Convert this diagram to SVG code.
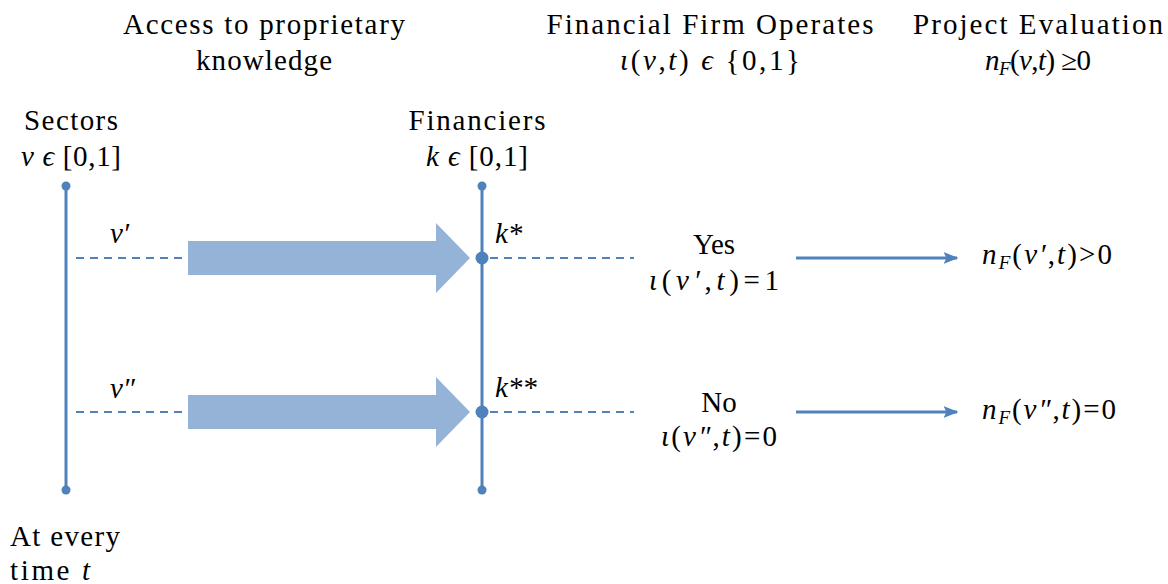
<svg xmlns="http://www.w3.org/2000/svg" width="1168" height="584" viewBox="0 0 1168 584" font-family="'Liberation Serif', 'DejaVu Serif', 'Times New Roman', serif">
<defs>
<style>
text{font-family:'Liberation Serif','DejaVu Serif','Times New Roman',serif;font-size:29px;fill:#000}
.m{font-style:italic}
.c{text-anchor:middle}
.ax{stroke:#4F81BD;stroke-width:3;fill:none}
.dash{stroke:#4F81BD;stroke-width:2;stroke-dasharray:8,6;fill:none}
.dot{fill:#4F81BD}
.big{fill:#95B3D7}
.arr{stroke:#4F81BD;stroke-width:3;fill:none}
.sub{font-size:19px;font-style:italic}
</style>
<marker id="ah" viewBox="0 0 10 10" refX="9" refY="5" markerWidth="5" markerHeight="5" orient="auto" markerUnits="strokeWidth">
<path d="M0,1 L10,5 L0,9 L2,5 z" fill="#4F81BD"/>
</marker>
</defs>

<g id="headers">
<text class="c" x="264" y="34" textLength="282">Access to proprietary</text>
<text class="c" x="264" y="70" textLength="136">knowledge</text>
<text class="c" x="710" y="34" textLength="327">Financial Firm Operates</text>
<text class="c" x="710" y="70" textLength="180"><tspan class="m">ι</tspan>(<tspan class="m">v</tspan>,<tspan class="m">t</tspan>) <tspan class="m">ϵ</tspan> {0,1}</text>
<text class="c" x="1038" y="34" textLength="250">Project Evaluation</text>
<text class="c" x="1038" y="70" textLength="106"><tspan class="m">n</tspan><tspan class="sub" dy="5">F</tspan><tspan dy="-5">(</tspan><tspan class="m">v</tspan>,<tspan class="m">t</tspan>) ≥0</text>
</g>

<g id="sectors">
<text class="c" x="71" y="130" textLength="94">Sectors</text>
<text class="c" x="71" y="166" textLength="100"><tspan class="m">v</tspan> <tspan class="m">ϵ</tspan> [0,1]</text>
<line class="ax" x1="66" y1="186" x2="66" y2="490"/>
<circle class="dot" cx="66" cy="186" r="4.5"/>
<circle class="dot" cx="66" cy="490" r="4.5"/>
<text x="10" y="546" textLength="110">At every</text>
<text x="10" y="580" textLength="80">time <tspan class="m">t</tspan></text>
</g>

<g id="financiers">
<text class="c" x="477" y="130" textLength="137">Financiers</text>
<text class="c" x="477" y="166" textLength="102"><tspan class="m">k</tspan> <tspan class="m">ϵ</tspan> [0,1]</text>
<line class="ax" x1="482" y1="186" x2="482" y2="490"/>
<circle class="dot" cx="482" cy="186" r="4.5"/>
<circle class="dot" cx="482" cy="490" r="4.5"/>
<circle class="dot" cx="482" cy="258" r="6.5"/>
<circle class="dot" cx="482" cy="412" r="6.5"/>
<text class="m" x="495" y="243">k*</text>
<text class="m" x="495" y="397">k**</text>
</g>

<g id="sector-v1">
<text class="m" x="110" y="243">v′</text>
</g>
<g id="sector-v2">
<text class="m" x="110" y="398">v″</text>
</g>

<g id="outcome-yes">
<text class="c" x="714" y="254">Yes</text>
<text class="c" x="714" y="290" textLength="130"><tspan class="m">ι</tspan>(<tspan class="m">v′</tspan>,<tspan class="m">t</tspan>)=1</text>
</g>
<g id="outcome-no">
<text class="c" x="719" y="412">No</text>
<text class="c" x="719" y="446" textLength="116"><tspan class="m">ι</tspan>(<tspan class="m">v″</tspan>,<tspan class="m">t</tspan>)=0</text>
</g>

<g id="eval-positive">
<text x="982" y="264" textLength="130"><tspan class="m">n</tspan><tspan class="sub" dy="5">F</tspan><tspan dy="-5">(</tspan><tspan class="m">v′</tspan>,<tspan class="m">t</tspan>)&gt;0</text>
</g>
<g id="eval-zero">
<text x="982" y="419" textLength="134"><tspan class="m">n</tspan><tspan class="sub" dy="5">F</tspan><tspan dy="-5">(</tspan><tspan class="m">v″</tspan>,<tspan class="m">t</tspan>)=0</text>
</g>

<g id="connectors">
<line class="dash" x1="76" y1="258" x2="188" y2="258"/>
<line class="dash" x1="76" y1="412" x2="188" y2="412"/>
<line class="dash" x1="490" y1="258" x2="634" y2="258"/>
<line class="dash" x1="490" y1="412" x2="634" y2="412"/>
<path class="big" d="M188,241 H436 V223 L470,258 L436,293 V275 H188 Z"/>
<path class="big" d="M188,395 H436 V377 L470,412 L436,447 V429 H188 Z"/>
<line class="arr" x1="796" y1="258" x2="957" y2="258" marker-end="url(#ah)"/>
<line class="arr" x1="796" y1="412" x2="957" y2="412" marker-end="url(#ah)"/>
</g>
</svg>
